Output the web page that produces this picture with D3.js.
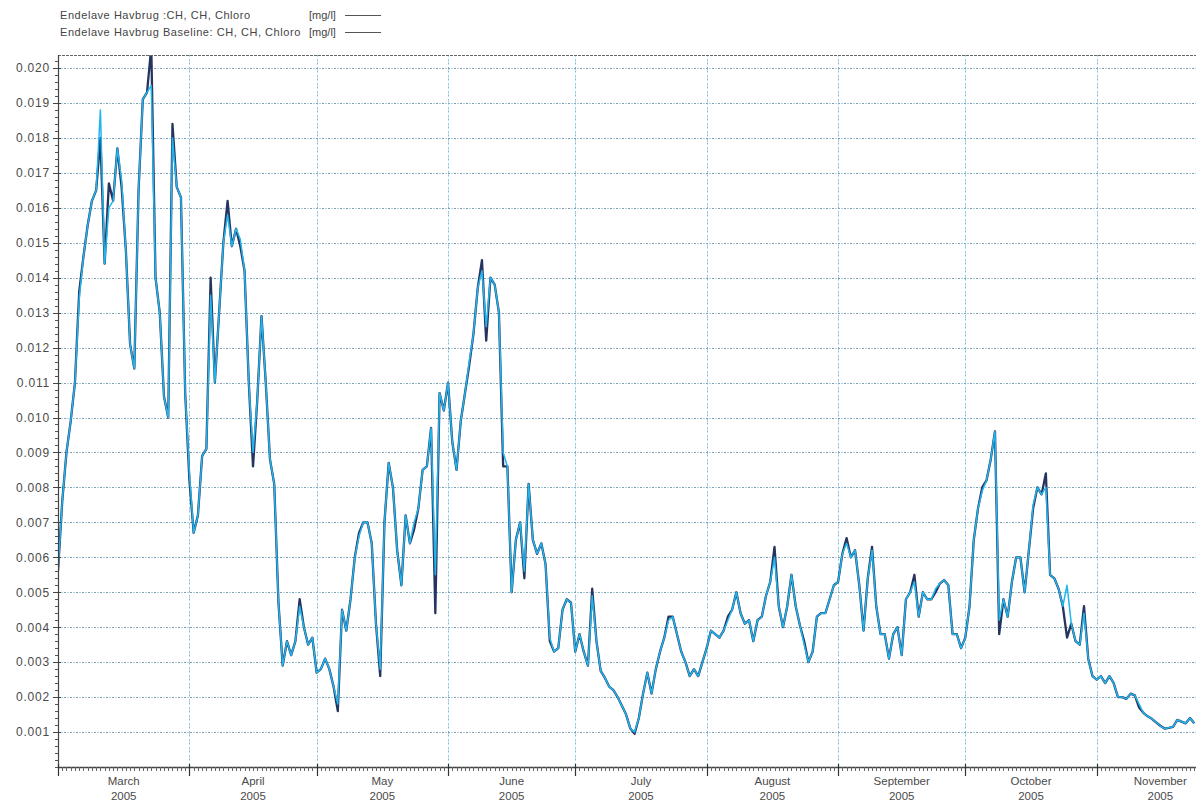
<!DOCTYPE html>
<html>
<head>
<meta charset="utf-8">
<script src="https://cdn.jsdelivr.net/npm/d3@7"></script>
<style>
  body { margin: 0; background: #fff; }
  svg text { font-family: "Liberation Sans", Arial, sans-serif; }
</style>
</head>
<body>
<svg id="chart" width="1196" height="807"></svg>
<script>
// Daily chlorophyll readings, mg/l, starting 1 March 2005
const startDay = Date.UTC(2005, 2, 1);
const seriesNames = ["Endelave Havbrug :CH, CH, Chloro", "Endelave Havbrug Baseline: CH, CH, Chloro"];
const unitLabel = "[mg/l]";

const chloro = [
  0.0056,0.0076,0.0090,0.0099,0.0110,0.0136,0.0146,0.0155,0.0162,0.0165,
  0.0180,0.0144,0.0167,0.0162,0.0177,0.0166,0.0148,0.0121,0.0114,0.0165,
  0.0191,0.0193,0.0206,0.0140,0.0130,0.0106,0.0100,0.0184,0.0166,0.0163,
  0.0107,0.0082,0.0067,0.0072,0.0089,0.0091,0.0140,0.0110,0.0130,0.0150,
  0.0162,0.0149,0.0154,0.0149,0.0142,0.0110,0.0086,0.0105,0.0129,0.0110,
  0.0088,0.0081,0.0047,0.0029,0.0036,0.0032,0.0036,0.0048,0.0040,0.0035,
  0.0037,0.0027,0.0028,0.0031,0.0028,0.0023,0.0016,0.0045,0.0039,0.0048,
  0.0060,0.0067,0.0070,0.0070,0.0064,0.0041,0.0026,0.0070,0.0087,0.0080,
  0.0062,0.0052,0.0072,0.0064,0.0068,0.0074,0.0085,0.0086,0.0097,0.0044,
  0.0107,0.0102,0.0110,0.0093,0.0085,0.0099,0.0107,0.0115,0.0124,0.0137,
  0.0145,0.0122,0.0140,0.0138,0.0130,0.0086,0.0086,0.0050,0.0065,0.0070,
  0.0054,0.0081,0.0065,0.0061,0.0064,0.0058,0.0036,0.0033,0.0034,0.0045,
  0.0048,0.0047,0.0033,0.0038,0.0033,0.0029,0.0051,0.0036,0.00275,0.00255,
  0.0023,0.0022,0.0020,0.00175,0.0015,0.0011,0.00095,0.0014,0.0021,0.0027,
  0.0021,0.0028,0.0033,0.0037,0.0043,0.0043,0.0038,0.0033,0.0030,0.0026,
  0.0028,0.0026,0.0030,0.0034,0.0039,0.0038,0.0037,0.0039,0.0043,0.0045,
  0.0050,0.0044,0.0041,0.0042,0.0036,0.0042,0.0043,0.0049,0.0053,0.0063,
  0.0046,0.0040,0.0046,0.0055,0.0046,0.00405,0.0036,0.0030,0.0033,0.0043,
  0.0044,0.0044,0.0048,0.0052,0.0053,0.0061,0.00655,0.0060,0.0062,0.0052,
  0.0039,0.0054,0.0063,0.0046,0.0038,0.0038,0.0031,0.0038,0.0040,0.0032,
  0.0048,0.0050,0.0055,0.0043,0.0050,0.0048,0.0048,0.0050,0.00525,0.00535,
  0.0052,0.0038,0.0038,0.0034,0.0037,0.0046,0.0065,0.0074,0.0080,0.0082,
  0.0088,0.0096,0.0038,0.0048,0.0043,0.0053,0.0060,0.0060,0.0050,0.0062,
  0.0074,0.0080,0.0078,0.0084,0.0055,0.0054,0.0051,0.0046,0.0037,0.0041,
  0.0036,0.0035,0.0046,0.0031,0.0026,0.0025,0.0026,0.0024,0.0026,0.0024,
  0.0020,0.0020,0.00195,0.0021,0.00205,0.0017,0.00155,0.00145,0.00138,0.00128,
  0.00118,0.0011,0.00112,0.00115,0.00135,0.0013,0.00125,0.0014,0.00125
];

const chloroBaseline = [
  0.0056,0.0076,0.0090,0.0099,0.0110,0.0134,0.0146,0.0155,0.0162,0.0165,
  0.0188,0.0144,0.0160,0.0162,0.0177,0.0168,0.0148,0.0121,0.0114,0.0165,
  0.0191,0.0193,0.0195,0.0140,0.0130,0.0106,0.0100,0.0180,0.0166,0.0163,
  0.0107,0.0084,0.0067,0.0072,0.0089,0.0091,0.0135,0.0110,0.0130,0.0150,
  0.0158,0.0149,0.0154,0.0151,0.0142,0.0110,0.0090,0.0105,0.0129,0.0110,
  0.0088,0.0081,0.0047,0.0029,0.0036,0.0032,0.0036,0.0046,0.0040,0.0035,
  0.0037,0.0027,0.0028,0.0031,0.0028,0.0023,0.0018,0.0045,0.0039,0.0048,
  0.0060,0.0066,0.0070,0.0070,0.0064,0.0041,0.0028,0.0070,0.0087,0.0080,
  0.0062,0.0052,0.0072,0.0064,0.0070,0.0074,0.0085,0.0086,0.0097,0.0055,
  0.0107,0.0102,0.0110,0.0093,0.0085,0.0099,0.0107,0.0116,0.0124,0.0137,
  0.0142,0.0126,0.0140,0.0138,0.0130,0.0090,0.0086,0.0050,0.0065,0.0070,
  0.0056,0.0081,0.0065,0.0061,0.0064,0.0058,0.0037,0.0033,0.0034,0.0045,
  0.0048,0.0047,0.0033,0.0038,0.0033,0.0029,0.0049,0.0036,0.00275,0.00255,
  0.0023,0.0022,0.0020,0.00175,0.0015,0.0011,0.0010,0.0014,0.0021,0.0027,
  0.0021,0.0028,0.0033,0.0037,0.0042,0.0043,0.0038,0.0033,0.0030,0.0026,
  0.0028,0.0026,0.0030,0.0034,0.0039,0.0038,0.0037,0.0039,0.0042,0.0045,
  0.0050,0.0044,0.0041,0.0042,0.0036,0.0042,0.0043,0.0049,0.0053,0.0060,
  0.0046,0.0040,0.0046,0.0055,0.0046,0.00405,0.0035,0.0030,0.0033,0.0043,
  0.0044,0.0044,0.0048,0.0052,0.0053,0.0061,0.0064,0.0060,0.0062,0.0052,
  0.0039,0.0054,0.0062,0.0046,0.0038,0.0038,0.0031,0.0038,0.0040,0.0032,
  0.0048,0.0050,0.0053,0.0043,0.0050,0.0048,0.0048,0.0051,0.00525,0.00535,
  0.0052,0.0038,0.0038,0.0034,0.0037,0.0046,0.0065,0.0074,0.0079,0.0082,
  0.0088,0.0096,0.0042,0.0048,0.0043,0.0053,0.0060,0.0060,0.0050,0.0062,
  0.0075,0.0080,0.0078,0.0080,0.0055,0.0054,0.0051,0.0046,0.0052,0.0041,
  0.0036,0.0035,0.0044,0.0031,0.0026,0.0025,0.0026,0.0024,0.0026,0.0024,
  0.0020,0.0020,0.00195,0.0021,0.00205,0.0018,0.00155,0.00145,0.00138,0.00128,
  0.00118,0.0011,0.00112,0.00115,0.00135,0.0013,0.00125,0.0014,0.00125
];

const yTickValues = [0.001,0.002,0.003,0.004,0.005,0.006,0.007,0.008,0.009,0.010,
                     0.011,0.012,0.013,0.014,0.015,0.016,0.017,0.018,0.019,0.020];
const monthLabels = ["March","April","May","June","July","August","September","October","November"];
const yearLabel = "2005";

const plotL = 58, plotR = 1196, plotT = 55, plotB = 767;

const svg = d3.select("#chart");

const x = d3.scaleUtc()
  .domain([new Date(startDay), new Date(Date.UTC(2005, 10, 24, 10))])
  .range([plotL, plotR]);
const y = d3.scaleLinear()
  .domain([0, 0.020372])
  .range([plotB, plotT]);

const dayDate = i => d3.utcDay.offset(new Date(startDay), i);
const px = v => Math.round(v) + 0.5;

// ---- grid ----
const grid = svg.append("g");
const hLines = (stroke, dash, offset, op) => grid.append("g")
  .selectAll("line").data(yTickValues).join("line")
  .attr("x1", plotL).attr("x2", plotR)
  .attr("y1", d => px(y(d))).attr("y2", d => px(y(d)))
  .attr("stroke", stroke).attr("stroke-dasharray", dash)
  .attr("stroke-dashoffset", offset).attr("opacity", op);
hLines("#86d2f2", "2,4", 3, 0.8);
hLines("#80858d", "2,4", 0, 0.85);

const monthStarts = d3.utcMonth.range(new Date(Date.UTC(2005, 3, 1)), x.domain()[1]);
const vLines = (stroke, dash, offset, op) => grid.append("g")
  .selectAll("line").data(monthStarts).join("line")
  .attr("x1", d => px(x(d))).attr("x2", d => px(x(d)))
  .attr("y1", plotT).attr("y2", plotB)
  .attr("stroke", stroke).attr("stroke-dasharray", dash)
  .attr("stroke-dashoffset", offset).attr("opacity", op);
vLines("#4fc0ee", "1.5,2.5", 0, 0.9);
vLines("#8a9096", "1.5,6.5", 2, 0.6);

// ---- series ----
svg.append("clipPath").attr("id", "plotClip")
  .append("rect").attr("x", plotL).attr("y", plotT).attr("width", plotR - plotL).attr("height", plotB - plotT);

const line = d3.line()
  .x((d, i) => x(dayDate(i)))
  .y(d => y(d));

const plot = svg.append("g").attr("clip-path", "url(#plotClip)");
plot.append("path").datum(chloro)
  .attr("d", line).attr("fill", "none")
  .attr("stroke", "#26345f").attr("stroke-width", 2.3).attr("stroke-linejoin", "round");
plot.append("path").datum(chloroBaseline)
  .attr("d", line).attr("fill", "none")
  .attr("stroke", "#1fb6ee").attr("stroke-width", 1.5).attr("stroke-linejoin", "round");

// ---- frame ----
svg.append("line").attr("x1", plotL).attr("x2", plotR).attr("y1", plotT + 0.5).attr("y2", plotT + 0.5)
  .attr("stroke", "#666").attr("stroke-dasharray", "3,1");

// ---- y axis ----
const yAxis = svg.append("g").attr("transform", `translate(${plotL},0)`);
yAxis.append("line").attr("x1", 0.5).attr("x2", 0.5).attr("y1", plotT).attr("y2", plotB)
  .attr("stroke", "#444").attr("stroke-width", 1.2);
const yMinor = d3.range(0, 0.0204, 0.0002);
yAxis.selectAll(".ym").data(yMinor).join("line")
  .attr("x1", -3).attr("x2", 0)
  .attr("y1", d => px(y(d))).attr("y2", d => px(y(d)))
  .attr("stroke", "#555");
yAxis.selectAll(".yM").data(yTickValues).join("line")
  .attr("x1", -5).attr("x2", 3)
  .attr("y1", d => px(y(d))).attr("y2", d => px(y(d)))
  .attr("stroke", "#444");
yAxis.selectAll("text").data(yTickValues).join("text")
  .attr("x", -8).attr("y", d => y(d)).attr("dy", "0.36em")
  .attr("text-anchor", "end")
  .attr("font-size", 12).attr("letter-spacing", 0.8).attr("fill", "#4a4a4a")
  .text(d3.format(".3f"));

// ---- x axis ----
const xAxis = svg.append("g");
xAxis.append("line").attr("x1", plotL).attr("x2", plotR).attr("y1", plotB + 0.5).attr("y2", plotB + 0.5)
  .attr("stroke", "#444").attr("stroke-width", 1.4);
const days = d3.utcDay.range(new Date(startDay), x.domain()[1]);
xAxis.selectAll(".xd").data(days).join("line")
  .attr("x1", d => px(x(d))).attr("x2", d => px(x(d)))
  .attr("y1", plotB).attr("y2", plotB + 4)
  .attr("stroke", "#666");
const allMonths = [new Date(startDay)].concat(monthStarts);
xAxis.selectAll(".xm").data(allMonths).join("line")
  .attr("x1", d => px(x(d))).attr("x2", d => px(x(d)))
  .attr("y1", plotB - 3).attr("y2", plotB + 9)
  .attr("stroke", "#333").attr("stroke-width", 1.2);

const labels = xAxis.selectAll(".lbl").data(allMonths).join("g")
  .attr("transform", d => `translate(${(x(d) + x(d3.utcMonth.offset(d, 1))) / 2},0)`);
labels.append("text").attr("y", 785).attr("text-anchor", "middle")
  .attr("font-size", 11.5).attr("fill", "#4a4a4a")
  .text((d, i) => monthLabels[i]);
labels.append("text").attr("y", 800).attr("text-anchor", "middle")
  .attr("font-size", 11.5).attr("fill", "#4a4a4a")
  .text(yearLabel);

// ---- legend ----
const legend = svg.append("g");
const legendRows = [
  { name: seriesNames[0], y: 15 },
  { name: seriesNames[1], y: 32 }
];
legendRows.forEach(r => {
  legend.append("text").attr("x", 60).attr("y", r.y).attr("dy", "0.35em")
    .attr("font-size", 11).attr("letter-spacing", 0.55).attr("fill", "#444").text(r.name);
  legend.append("text").attr("x", 309).attr("y", r.y).attr("dy", "0.35em")
    .attr("font-size", 11).attr("fill", "#444").text(unitLabel);
  legend.append("line").attr("x1", 345).attr("x2", 381).attr("y1", r.y + 0.5).attr("y2", r.y + 0.5)
    .attr("stroke", "#555").attr("stroke-width", 1);
});
</script>
</body>
</html>
